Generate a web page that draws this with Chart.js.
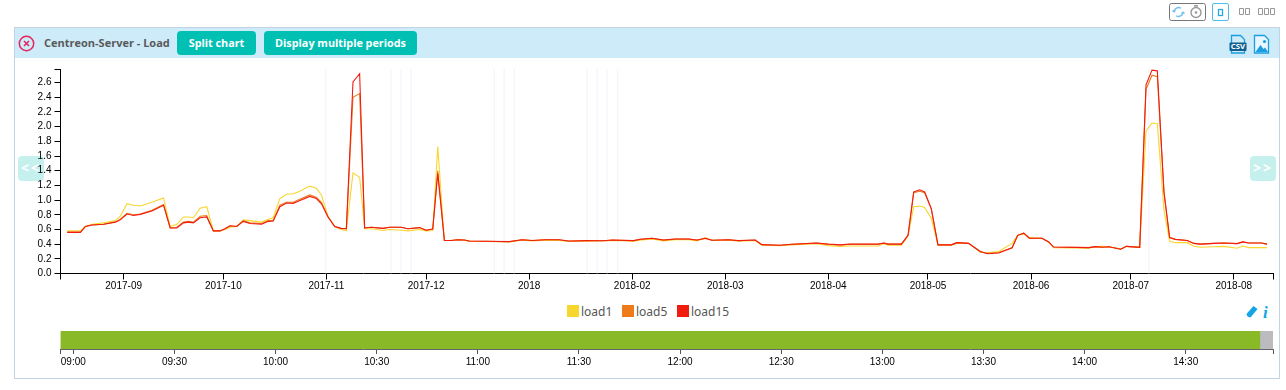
<!DOCTYPE html>
<html>
<head>
<meta charset="utf-8">
<title>Centreon-Server - Load</title>
<script src="https://cdn.jsdelivr.net/npm/chart.js@4"></script>
<style>
body { margin: 0; background: #fff; width: 1286px; height: 390px; overflow: hidden; position: relative; font-family: "Open Sans", sans-serif; }
.abs { position: absolute; }
#caixa { left: 14px; top: 27px; width: 1264px; height: 350px; border: 1px solid #c2d3e4; }
#cabecalho { left: 15px; top: 28px; width: 1264px; height: 30px; background: #cdebf8; }
#titulo { left: 44px; top: 35px; font-size: 11px; font-weight: 700; color: #5a5a5a; white-space: nowrap; line-height: 16px; }
.botao { top: 31px; height: 24px; line-height: 24px; text-align: center; background: #00c0b3; color: #fff; border-radius: 4px; font-size: 10.8px; font-weight: 700; }
.seta { top: 156px; width: 26px; height: 25px; line-height: 23px; text-align: center; background: #c6f0ee; color: #fff; border-radius: 4px; font-size: 14px; font-weight: 700; letter-spacing: 2px; }
canvas { position: absolute; }
#legenda { left: 0; top: 304px; width: 1286px; height: 16px; font-family: "Noto Sans", sans-serif; font-size: 12px; color: #555; }
#legenda span { position: absolute; line-height: 16px; }
#legenda i { position: absolute; top: 1px; width: 12px; height: 12px; }
</style>
</head>
<body>
<div class="abs" id="caixa"></div>
<div class="abs" id="cabecalho"></div>
<svg class="abs" style="left:18px;top:35px" width="17" height="17" viewBox="0 0 17 17">
  <circle cx="8.5" cy="8.5" r="7.2" fill="none" stroke="#e5265c" stroke-width="1.5"/>
  <path d="M6 6l5 5M11 6l-5 5" stroke="#e5265c" stroke-width="1.6"/>
</svg>
<div class="abs" id="titulo">Centreon-Server - Load</div>
<div class="abs botao" style="left:177px;width:79px">Split chart</div>
<div class="abs botao" style="left:264px;width:153px">Display multiple periods</div>

<!-- icones do topo -->
<svg class="abs" style="left:1165px;top:0" width="115" height="24" viewBox="0 0 115 24">
  <rect x="4.5" y="3.5" width="36" height="17" rx="2" fill="none" stroke="#777"/>
  <path d="M9 12a4.500 4.500 0 0 1 7-3.700M9 12l-1.500-1.500M9 12l1.500-1.500M18 12a4.500 4.500 0 0 1-7 3.700M18 12l-1.500 1.500M18 12l1.500 1.500" fill="none" stroke="#6cc0ee" stroke-width="1.3"/>
  <circle cx="31" cy="12.5" r="5" fill="none" stroke="#999" stroke-width="1.4"/>
  <circle cx="31" cy="12.5" r="1.3" fill="#999"/>
  <rect x="29" y="5" width="4" height="1.6" fill="#999"/>
  <rect x="47.5" y="3.5" width="16" height="17" rx="1.5" fill="none" stroke="#4dbdf0"/>
  <rect x="53.5" y="9.5" width="4" height="6" fill="none" stroke="#2aa8e6" stroke-width="1.3"/>
  <path d="M74.5 8.5h4v6h-4zM80.5 8.5h4v6h-4zM93.5 8.5h4v6h-4zM99.5 8.5h4v6h-4zM105.5 8.5h4v6h-4z" fill="none" stroke="#999"/>
</svg>
<!-- csv e imagem -->
<svg class="abs" style="left:1228px;top:33px" width="46" height="22" viewBox="0 0 46 22">
  <path d="M3.500 15V2.500h9l4 4V20h-13z" fill="none" stroke="#1a9ee0" stroke-width="1.3"/>
  <rect x="1.500" y="9.500" width="17" height="8.500" rx="1" fill="#0f5f8f"/>
  <text x="10" y="16.300" font-size="7.800" font-weight="700" fill="#fff" text-anchor="middle" font-family="Open Sans">CSV</text>
  <path d="M26.500 20V2.500h10l4 4V20z" fill="#e8f6fd" stroke="#1a9ee0" stroke-width="1.3"/>
  <path d="M27.500 19l5-7 3 4 1.500-1.500 3 4.500z" fill="#1a9ee0"/>
  <circle cx="36.500" cy="8.500" r="1.600" fill="#1a9ee0"/>
</svg>
<!-- borracha e info -->
<svg class="abs" style="left:1244px;top:303px" width="30" height="18" viewBox="0 0 30 18">
  <path d="M2.500 11l7-8 4 3-7 8.500-3-1z" fill="#13a5e5"/>
  <text x="19" y="14.500" font-size="17" font-weight="700" font-style="italic" fill="#13a5e5" font-family="Liberation Serif">i</text>
</svg>

<div class="abs seta" style="left:18px">&lt;&lt;</div>
<div class="abs seta" style="left:1250px">&gt;&gt;</div>

<canvas id="grafico" width="1286" height="240" style="left:0;top:60px"></canvas>
<div class="abs" id="legenda"></div>
<canvas id="navegador" width="1286" height="45" style="left:0;top:325px"></canvas>

<script>
// Dados (dias contados a partir de 2017-08-13)
const dias = [2, 6, 7.5, 9.5, 13, 16.5, 18, 20, 22, 24, 27.5, 31, 33, 35, 37, 38.5, 40, 42, 44, 46, 48, 49.5, 51, 53, 55, 57, 60.5, 62.5, 64, 66, 68, 70, 71.5, 75, 77, 78.5, 80.5, 82.5, 84.5, 86, 88, 90, 91.5, 93.5, 97, 99, 102.5, 104.5, 108, 110, 112, 113.5, 115.5, 117.5, 119.5, 121.5, 123, 128, 135, 138.8, 142, 145.8, 150, 153, 158.4, 163.4, 166, 172.4, 174.4, 178, 181.4, 185, 189, 191.5, 194, 196, 201, 204, 209, 211, 216.5, 220, 227.5, 231, 234.6, 237.6, 246, 247.7, 249, 253, 255, 256.7, 258.5, 260, 262, 264, 268, 269.7, 273.2, 276.7, 278.8, 282.3, 286.3, 288, 289.8, 291.5, 295.3, 297.3, 298.8, 309.4, 311.4, 313.4, 315.4, 319, 320.7, 324.7, 326.6, 328.4, 330, 332, 333.7, 335.4, 339, 341, 343, 347, 350, 354, 355.7, 357.5, 361.3, 363];

const load1 = [0.58, 0.58, 0.64, 0.67, 0.69, 0.72, 0.78, 0.95, 0.93, 0.92, 0.97, 1.03, 0.64, 0.67, 0.77, 0.77, 0.76, 0.89, 0.91, 0.58, 0.58, 0.6, 0.63, 0.64, 0.73, 0.72, 0.7, 0.74, 0.76, 1.02, 1.08, 1.085, 1.11, 1.19, 1.16, 1.07, 0.78, 0.64, 0.6, 0.58, 1.37, 1.31, 0.61, 0.61, 0.585, 0.6, 0.59, 0.58, 0.6, 0.58, 0.585, 1.73, 0.45, 0.45, 0.46, 0.455, 0.44, 0.435, 0.43, 0.455, 0.445, 0.455, 0.45, 0.435, 0.44, 0.445, 0.45, 0.44, 0.455, 0.47, 0.445, 0.46, 0.46, 0.445, 0.49, 0.45, 0.455, 0.44, 0.45, 0.385, 0.38, 0.39, 0.405, 0.38, 0.37, 0.375, 0.375, 0.405, 0.385, 0.385, 0.51, 0.91, 0.92, 0.9, 0.75, 0.385, 0.385, 0.41, 0.41, 0.29, 0.285, 0.3, 0.41, 0.52, 0.54, 0.49, 0.48, 0.43, 0.35, 0.345, 0.365, 0.37, 0.365, 0.335, 0.37, 0.36, 1.94, 2.05, 2.04, 0.86, 0.44, 0.42, 0.42, 0.37, 0.357, 0.365, 0.37, 0.344, 0.375, 0.353, 0.355, 0.353];

const load5 = [0.565, 0.565, 0.64, 0.66, 0.67, 0.7, 0.74, 0.82, 0.8, 0.81, 0.86, 0.94, 0.62, 0.63, 0.7, 0.71, 0.7, 0.78, 0.79, 0.58, 0.58, 0.61, 0.65, 0.64, 0.72, 0.69, 0.68, 0.72, 0.72, 0.93, 0.97, 0.97, 1, 1.07, 1.04, 0.97, 0.77, 0.64, 0.61, 0.61, 2.4, 2.45, 0.62, 0.63, 0.615, 0.63, 0.63, 0.61, 0.625, 0.59, 0.605, 1.4, 0.45, 0.45, 0.46, 0.457, 0.44, 0.44, 0.432, 0.46, 0.45, 0.46, 0.46, 0.44, 0.447, 0.445, 0.455, 0.447, 0.465, 0.478, 0.455, 0.468, 0.468, 0.452, 0.478, 0.452, 0.46, 0.447, 0.456, 0.392, 0.385, 0.397, 0.414, 0.398, 0.388, 0.398, 0.398, 0.414, 0.4, 0.4, 0.52, 1.1, 1.12, 1.1, 0.88, 0.39, 0.39, 0.42, 0.41, 0.3, 0.275, 0.285, 0.35, 0.52, 0.55, 0.48, 0.48, 0.43, 0.36, 0.353, 0.366, 0.357, 0.364, 0.33, 0.37, 0.357, 2.51, 2.7, 2.68, 1.1, 0.49, 0.465, 0.45, 0.41, 0.4, 0.41, 0.416, 0.407, 0.43, 0.416, 0.416, 0.4];

const load15 = [0.56, 0.56, 0.64, 0.66, 0.67, 0.7, 0.73, 0.81, 0.79, 0.805, 0.85, 0.93, 0.62, 0.62, 0.69, 0.7, 0.69, 0.76, 0.77, 0.58, 0.58, 0.61, 0.65, 0.64, 0.71, 0.68, 0.67, 0.71, 0.715, 0.91, 0.96, 0.955, 0.985, 1.05, 1.02, 0.95, 0.77, 0.64, 0.615, 0.61, 2.61, 2.72, 0.62, 0.63, 0.615, 0.63, 0.63, 0.61, 0.625, 0.59, 0.605, 1.365, 0.45, 0.45, 0.46, 0.457, 0.443, 0.44, 0.434, 0.46, 0.45, 0.46, 0.46, 0.443, 0.448, 0.445, 0.457, 0.448, 0.466, 0.48, 0.457, 0.47, 0.47, 0.457, 0.48, 0.452, 0.46, 0.448, 0.457, 0.393, 0.385, 0.398, 0.416, 0.4, 0.39, 0.4, 0.4, 0.416, 0.4, 0.4, 0.52, 1.11, 1.14, 1.11, 0.88, 0.39, 0.39, 0.42, 0.41, 0.3, 0.27, 0.28, 0.35, 0.52, 0.55, 0.48, 0.48, 0.43, 0.36, 0.353, 0.366, 0.357, 0.364, 0.33, 0.37, 0.357, 2.57, 2.77, 2.76, 1.11, 0.49, 0.465, 0.45, 0.41, 0.4, 0.41, 0.416, 0.407, 0.43, 0.416, 0.416, 0.4];

const nomesSeries = ["load1", "load5", "load15"];
const coresSeries = ["#f7d62e", "#ee7a1a", "#f01c10"];

// Marcas do eixo
const diasTicks = [19, 49, 80, 110, 141, 172, 200, 231, 261, 292, 322, 353];
const rotulosX = ["2017-09", "2017-10", "2017-11", "2017-12", "2018", "2018-02", "2018-03", "2018-04", "2018-05", "2018-06", "2018-07", "2018-08"];
const valoresY = [0, 0.2, 0.4, 0.6, 0.8, 1, 1.2, 1.4, 1.6, 1.8, 2, 2.2, 2.4, 2.6];
const fimDias = 364.8;
const fimY = 2.785;

// Linhas verticais bem claras
const diasParada = [79.8, 99.4, 102.5, 105.5, 130.5, 133.5, 136.5, 158.5, 161.5, 164.5, 167.6, 327.4];

// Barra de tempo embaixo (minutos do dia)
const minutosTicks = [540, 570, 600, 630, 660, 690, 720, 750, 780, 810, 840, 870];
const rotulosTempo = ["09:00", "09:30", "10:00", "10:30", "11:00", "11:30", "12:00", "12:30", "13:00", "13:30", "14:00", "14:30"];
const inicioTempo = 536.2;
const fimVerde = 892;
const fimTempo = 895.9;

const fonteEixo = { family: "'Liberation Sans'", size: 10 };

function pontos(valores) {
    return dias.map((d, i) => ({ x: d, y: valores[i] }));
}

function linhasParada() {
    const lista = [];
    diasParada.forEach(d => {
        lista.push({ x: d, y: 0 }, { x: d, y: fimY }, { x: d, y: null });
    });
    return lista;
}

// Legenda
const legenda = document.getElementById("legenda");
const posLegenda = [[567, 581], [622, 636], [677, 691]];
nomesSeries.forEach((nome, i) => {
    const caixa = document.createElement("i");
    caixa.style.left = posLegenda[i][0] + "px";
    caixa.style.background = coresSeries[i];
    const texto = document.createElement("span");
    texto.style.left = posLegenda[i][1] + "px";
    texto.innerText = nome;
    legenda.appendChild(caixa);
    legenda.appendChild(texto);
});

// =============================
// Grafico principal
// =============================
const series = [load1, load5, load15].map((valores, i) => ({
    label: nomesSeries[i],
    data: pontos(valores),
    borderColor: coresSeries[i],
    borderWidth: 1.1,
    pointRadius: 0,
    tension: 0,
    order: 3 - i
}));

series.push({
    label: "parada",
    data: linhasParada(),
    borderColor: "#f6f6fc",
    borderWidth: 1.5,
    pointRadius: 0,
    spanGaps: false,
    order: 9
});

new Chart(document.getElementById("grafico").getContext("2d"), {
    type: "line",
    data: { datasets: series },
    options: {
        responsive: false,
        animation: false,
        layout: { padding: { top: 8, right: 13 } },
        plugins: { legend: { display: false }, tooltip: { enabled: false } },
        scales: {
            x: {
                type: "linear",
                min: 0,
                max: fimDias,
                afterFit: s => { s.height = 26.5; },
                afterBuildTicks: s => {
                    s.ticks = [0, ...diasTicks, fimDias].map(v => ({ value: v }));
                },
                ticks: {
                    autoSkip: false,
                    maxRotation: 0,
                    color: "#000",
                    font: fonteEixo,
                    padding: 1,
                    callback: v => rotulosX[diasTicks.indexOf(v)] ?? ""
                },
                grid: { drawOnChartArea: false, tickLength: 6, tickColor: "#000" },
                border: { color: "#000" }
            },
            y: {
                min: 0,
                max: fimY,
                afterFit: s => { s.width = 60.5; },
                afterBuildTicks: s => {
                    s.ticks = [...valoresY, fimY].map(v => ({ value: v }));
                },
                ticks: {
                    autoSkip: false,
                    color: "#000",
                    font: fonteEixo,
                    padding: 3,
                    callback: v => valoresY.includes(v) ? v.toFixed(1) : ""
                },
                grid: { drawOnChartArea: false, tickLength: 6, tickColor: "#000" },
                border: { color: "#000" }
            }
        }
    }
});

// =============================
// Barra de tempo
// =============================
new Chart(document.getElementById("navegador").getContext("2d"), {
    type: "bar",
    data: {
        labels: [""],
        datasets: [
            { data: [[inicioTempo, fimVerde]], backgroundColor: "#8ab927" },
            { data: [[fimVerde, fimTempo]], backgroundColor: "#bcbcc0" }
        ]
    },
    options: {
        indexAxis: "y",
        responsive: false,
        animation: false,
        grouped: false,
        barPercentage: 1,
        categoryPercentage: 1,
        layout: { padding: { top: 6, left: 60.5, right: 13 } },
        plugins: { legend: { display: false }, tooltip: { enabled: false } },
        scales: {
            x: {
                type: "linear",
                min: inicioTempo,
                max: fimTempo,
                afterFit: s => { s.height = 21; },
                afterBuildTicks: s => {
                    s.ticks = [inicioTempo, ...minutosTicks, fimTempo].map(v => ({ value: v }));
                },
                ticks: {
                    autoSkip: false,
                    maxRotation: 0,
                    color: "#000",
                    font: fonteEixo,
                    padding: 2.5,
                    callback: v => rotulosTempo[minutosTicks.indexOf(v)] ?? ""
                },
                grid: { drawOnChartArea: false, tickLength: 5, tickColor: "#555" },
                border: { color: "#666" }
            },
            y: { display: false }
        }
    }
});
</script>
</body>
</html>
